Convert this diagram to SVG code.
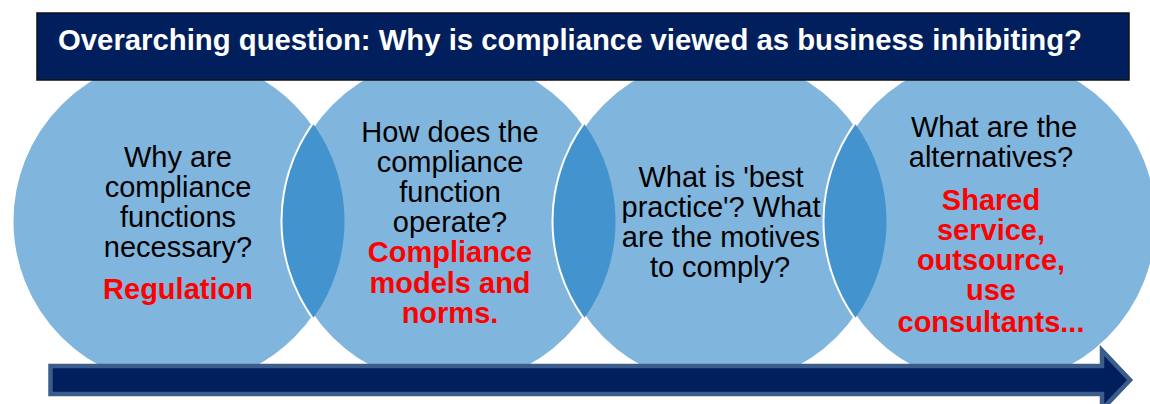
<svg xmlns="http://www.w3.org/2000/svg" width="1150" height="404" viewBox="0 0 1150 404">
  <style>
    .circ { fill: #80b5dd; stroke: #ffffff; stroke-width: 4; }
    .lens { fill: #4393cf; }
    .q { font-family: "Liberation Sans", Arial, sans-serif; font-size: 29px; fill: #000000; text-anchor: middle; }
    .a { font-family: "Liberation Sans", Arial, sans-serif; font-size: 29px; font-weight: bold; fill: #ff0000; text-anchor: middle; }
    .title { font-family: "Liberation Sans", Arial, sans-serif; font-size: 29.3px; font-weight: bold; fill: #ffffff; }
  </style>
  <rect width="1150" height="404" fill="#ffffff"/>

  <g id="node1">
    <circle class="circ" cx="178" cy="221" r="166.5"/>
    <text class="q" x="178" y="167">Why are</text>
    <text class="q" x="178" y="197">compliance</text>
    <text class="q" x="178" y="227">functions</text>
    <text class="q" x="178" y="257">necessary?</text>
    <text class="a" x="178" y="299">Regulation</text>
  </g>

  <g id="node2">
    <circle class="circ" cx="449" cy="221" r="166.5"/>
    <path class="lens" d="M313.5,124.2 A166.5,166.5 0 0 1 313.5,317.8 A166.5,166.5 0 0 1 313.5,124.2 Z"/>
    <text class="q" x="450" y="142">How does the</text>
    <text class="q" x="450" y="172">compliance</text>
    <text class="q" x="450" y="202">function</text>
    <text class="q" x="450" y="232">operate?</text>
    <text class="a" x="450" y="262">Compliance</text>
    <text class="a" x="450" y="293">models and</text>
    <text class="a" x="450" y="323">norms.</text>
  </g>

  <g id="node3">
    <circle class="circ" cx="720" cy="221" r="166.5"/>
    <path class="lens" d="M584.5,124.2 A166.5,166.5 0 0 1 584.5,317.8 A166.5,166.5 0 0 1 584.5,124.2 Z"/>
    <text class="q" x="721" y="187">What is 'best</text>
    <text class="q" x="721" y="217">practice'? What</text>
    <text class="q" x="721" y="247">are the motives</text>
    <text class="q" x="720" y="277">to comply?</text>
  </g>

  <g id="node4">
    <circle class="circ" cx="991" cy="221" r="166.5"/>
    <path class="lens" d="M855.5,124.2 A166.5,166.5 0 0 1 855.5,317.8 A166.5,166.5 0 0 1 855.5,124.2 Z"/>
    <text class="q" x="994" y="137">What are the</text>
    <text class="q" x="991" y="167">alternatives?</text>
    <text class="a" x="991" y="210">Shared</text>
    <text class="a" x="991" y="240">service,</text>
    <text class="a" x="991" y="270">outsource,</text>
    <text class="a" x="991" y="300">use</text>
    <text class="a" x="991" y="332">consultants...</text>
  </g>

  <g id="title">
    <rect x="37" y="13" width="1092" height="67" fill="#001f5c" stroke="#111111" stroke-width="1.5"/>
    <text class="title" x="58" y="50">Overarching question: Why is compliance viewed as business inhibiting?</text>
  </g>

  <g id="connectors">
    <polygon points="50.5,366 1102,366 1102,350.5 1130,380 1102,409.5 1102,394 50.5,394" fill="#001f5c" stroke="#3c5d8c" stroke-width="4.5"/>
  </g>
</svg>
